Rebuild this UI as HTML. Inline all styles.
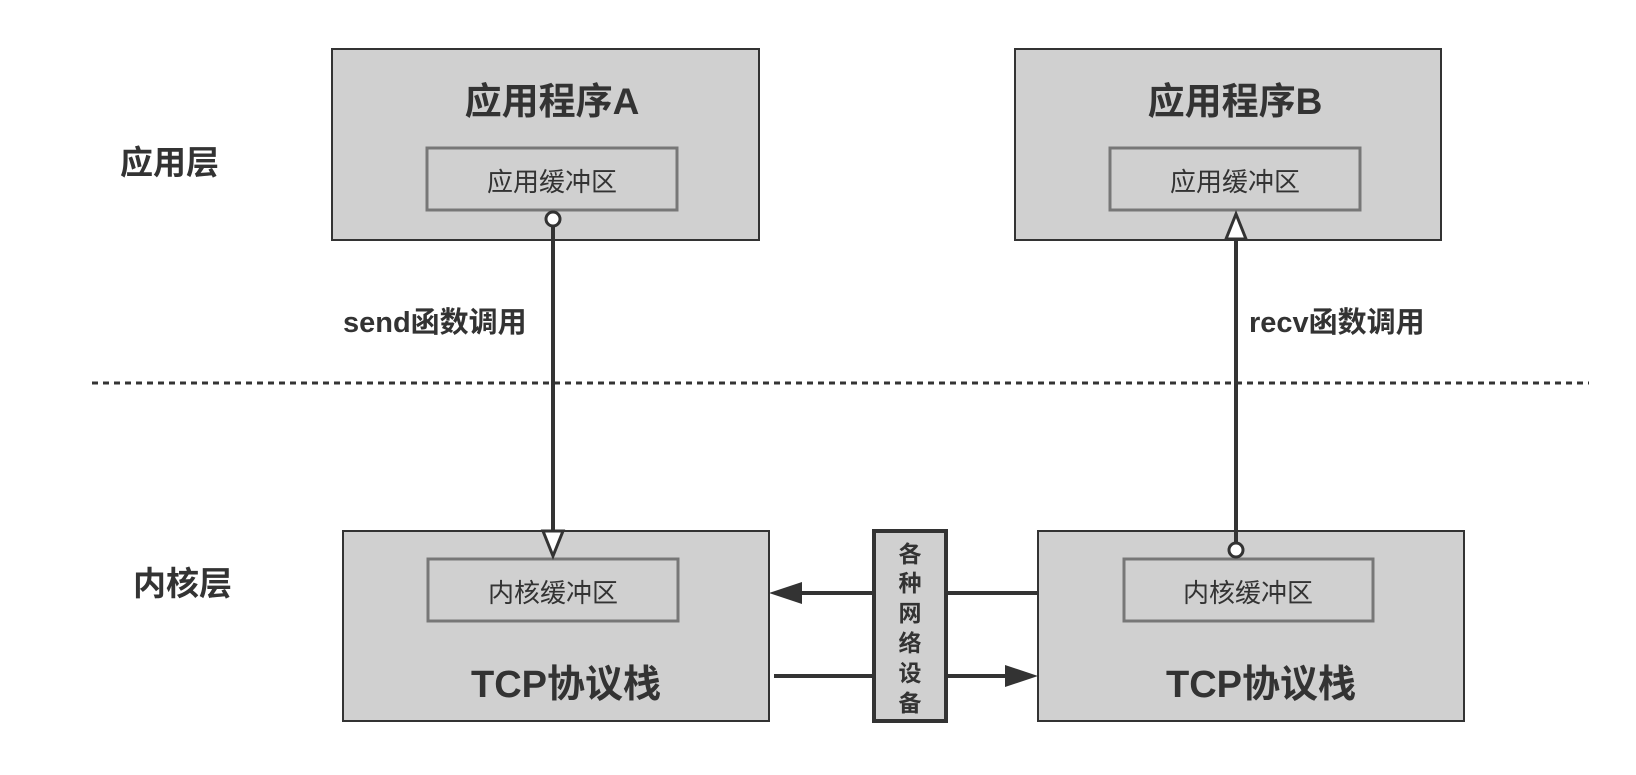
<!DOCTYPE html>
<html><head><meta charset="utf-8"><style>
body{margin:0;background:#fff}
svg text{font-family:"Liberation Sans","Noto Sans CJK SC",sans-serif;fill:#333}
</style></head><body>
<svg width="1636" height="770" xmlns="http://www.w3.org/2000/svg">
<rect width="1636" height="770" fill="#fff"/>
<rect x="332" y="49" width="427" height="191" fill="#d0d0d0" stroke="#333" stroke-width="2"/>
<rect x="1015" y="49" width="426" height="191" fill="#d0d0d0" stroke="#333" stroke-width="2"/>
<rect x="427" y="148" width="250" height="62" fill="#d0d0d0" stroke="#777" stroke-width="3"/>
<rect x="1110" y="148" width="250" height="62" fill="#d0d0d0" stroke="#777" stroke-width="3"/>
<text x="552" y="114" font-size="37" font-weight="bold" text-anchor="middle">应用程序A</text>
<text x="1235" y="114" font-size="37" font-weight="bold" text-anchor="middle">应用程序B</text>
<text x="552" y="191" font-size="26" text-anchor="middle">应用缓冲区</text>
<text x="1235" y="191" font-size="26" text-anchor="middle">应用缓冲区</text>
<text x="120" y="174" font-size="33" font-weight="bold">应用层</text>
<text x="133" y="595" font-size="33" font-weight="bold">内核层</text>
<line x1="92" y1="383" x2="1589" y2="383" stroke="#333" stroke-width="3" stroke-dasharray="6,5"/>
<rect x="343" y="531" width="426" height="190" fill="#d0d0d0" stroke="#333" stroke-width="2"/>
<rect x="1038" y="531" width="426" height="190" fill="#d0d0d0" stroke="#333" stroke-width="2"/>
<rect x="428" y="559" width="250" height="62" fill="#d0d0d0" stroke="#777" stroke-width="3"/>
<rect x="1124" y="559" width="249" height="62" fill="#d0d0d0" stroke="#777" stroke-width="3"/>
<text x="553" y="602" font-size="26" text-anchor="middle">内核缓冲区</text>
<text x="1248" y="602" font-size="26" text-anchor="middle">内核缓冲区</text>
<text x="566" y="697" font-size="38" font-weight="bold" text-anchor="middle">TCP协议栈</text>
<text x="1261" y="697" font-size="38" font-weight="bold" text-anchor="middle">TCP协议栈</text>
<rect x="874" y="531" width="72" height="190" fill="#d0d0d0" stroke="#333" stroke-width="4"/>
<g font-size="23" font-weight="bold" text-anchor="middle">
<text x="910" y="562">各</text><text x="910" y="591">种</text><text x="910" y="621">网</text>
<text x="910" y="651">络</text><text x="910" y="681">设</text><text x="910" y="711">备</text>
</g>
<g stroke="#333" stroke-width="4">
<line x1="1038" y1="593" x2="946" y2="593"/>
<line x1="874" y1="593" x2="790" y2="593"/>
<line x1="774" y1="676" x2="874" y2="676"/>
<line x1="946" y1="676" x2="1016" y2="676"/>
</g>
<polygon points="769,593 802,582 802,604" fill="#333"/>
<polygon points="1038,676 1005,665 1005,687" fill="#333"/>
<line x1="553" y1="227" x2="553" y2="532" stroke="#333" stroke-width="4"/>
<circle cx="553" cy="219" r="7" fill="#fff" stroke="#333" stroke-width="3"/>
<polygon points="543,531 563,531 553,556" fill="#fff" stroke="#333" stroke-width="3"/>
<line x1="1236" y1="542" x2="1236" y2="239" stroke="#333" stroke-width="4"/>
<circle cx="1236" cy="550" r="7" fill="#fff" stroke="#333" stroke-width="3"/>
<polygon points="1226,239 1246,239 1236,214" fill="#fff" stroke="#333" stroke-width="3"/>
<text x="343" y="332" font-size="29" font-weight="bold">send函数调用</text>
<text x="1249" y="332" font-size="29" font-weight="bold">recv函数调用</text>
</svg>
</body></html>
